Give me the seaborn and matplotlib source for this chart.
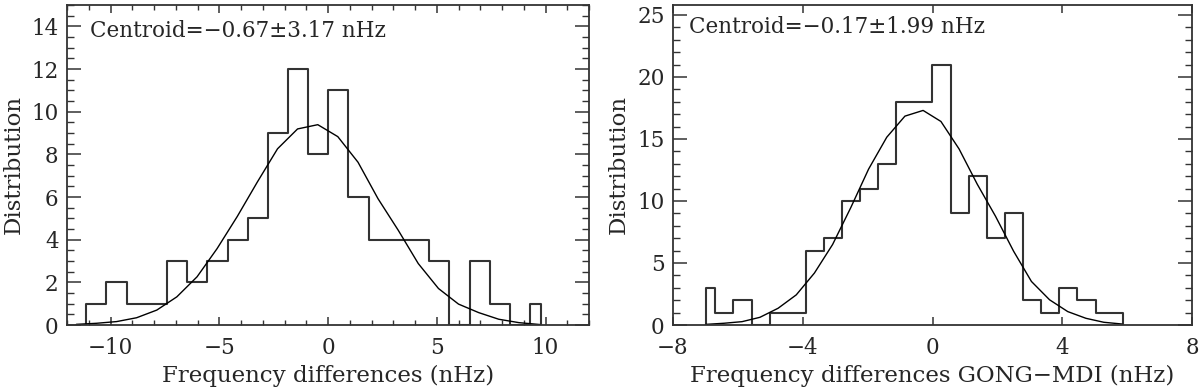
import numpy as np
import pandas as pd
import seaborn as sns
import matplotlib.pyplot as plt
from matplotlib.ticker import MultipleLocator

# left panel: histogram (bin edges + counts) and fitted gaussian read at bin centres
left_edges = [-11.57, -11.11, -10.20, -9.25, -8.33, -7.42, -6.48, -5.55, -4.62, -3.67,
              -2.75, -1.83, -0.92, 0.01, 0.93, 1.88, 2.80, 3.72, 4.63, 5.58, 6.51,
              7.45, 8.38, 9.30, 9.78]
left_counts = [0, 1, 2, 1, 1, 3, 2, 3, 4, 5, 9, 12, 8, 11, 6, 4, 4, 4, 3, 0, 3, 1, 0, 1]
left_fit_x = [-11.57, -10.65, -9.72, -8.80, -7.87, -6.95, -6.02, -5.10, -4.17, -3.25,
              -2.32, -1.40, -0.47, 0.45, 1.38, 2.30, 3.23, 4.15, 5.08, 6.00, 6.93,
              7.85, 8.78, 9.76]
left_fit_y = [0.03, 0.08, 0.16, 0.34, 0.70, 1.32, 2.26, 3.58, 5.09, 6.70, 8.26, 9.19,
              9.39, 8.83, 7.63, 5.92, 4.44, 2.88, 1.71, 0.98, 0.58, 0.27, 0.11, 0.02]

# right panel: GONG-MDI
right_edges = [-6.99, -6.70, -6.14, -5.57, -5.01, -4.46, -3.91, -3.34, -2.78, -2.22,
               -1.67, -1.12, -0.56, -0.01, 0.56, 1.11, 1.67, 2.23, 2.80, 3.35, 3.91,
               4.46, 5.03, 5.58, 5.86]
right_counts = [3, 1, 2, 0, 1, 1, 6, 7, 10, 11, 13, 18, 18, 21, 9, 12, 7, 9, 2, 1, 3, 2, 1, 1]
right_fit_x = [-6.99, -6.43, -5.87, -5.32, -4.76, -4.20, -3.64, -3.08, -2.52, -1.97,
               -1.41, -0.85, -0.29, 0.26, 0.82, 1.38, 1.94, 2.50, 3.05, 3.61, 4.17,
               4.73, 5.28, 5.84]
right_fit_y = [0.05, 0.14, 0.27, 0.62, 1.35, 2.43, 4.19, 6.49, 9.46, 12.57, 15.14,
               16.84, 17.30, 16.41, 14.19, 11.35, 8.78, 5.95, 3.51, 2.03, 1.08, 0.54,
               0.22, 0.08]

left_label = "Centroid=\u22120.67\u00b13.17 nHz"
right_label = "Centroid=\u22120.17\u00b11.99 nHz"

sns.set_style("ticks")
plt.rcParams['font.family'] = ['DejaVu Serif']
plt.rcParams['axes.unicode_minus'] = True

fig = plt.figure(figsize=(12.02, 3.89), dpi=100)
ax1 = fig.add_axes([67/1202, 64/389, 522/1202, 320/389])
ax2 = fig.add_axes([673/1202, 64/389, 519/1202, 320/389])

fc = "#333333"


def draw_panel(ax, edges, counts, fx, fy, label, lx, ly):
    mids = [(a + b) / 2 for a, b in zip(edges[:-1], edges[1:])]
    df = pd.DataFrame({"x": mids, "w": counts})
    sns.histplot(data=df, x="x", weights="w", bins=list(edges), element="step",
                 fill=False, color=fc, linewidth=1.5, ax=ax)
    # close the outline down to the baseline at both ends
    ax.vlines([edges[0], edges[-1]], 0, [counts[0], counts[-1]], color=fc, linewidth=1.5)
    sns.lineplot(x=fx, y=fy, color="black", linewidth=1.0, ax=ax)
    ax.text(lx, ly, label, transform=ax.transAxes, fontsize=15.5, va="baseline")
    for s in ax.spines.values():
        s.set_linewidth(1.3)
        s.set_color(fc)
        s.set_visible(True)
    ax.tick_params(which="both", direction="in", top=True, right=True,
                   labelsize=15.5, color=fc)
    ax.tick_params(axis="x", pad=9)
    ax.tick_params(axis="y", pad=6)


draw_panel(ax1, left_edges, left_counts, left_fit_x, left_fit_y, left_label, 0.044, 0.90)
draw_panel(ax2, right_edges, right_counts, right_fit_x, right_fit_y, right_label, 0.031, 0.912)

ax1.set_xlim(-12, 12)
ax1.set_ylim(0, 15)
ax1.xaxis.set_major_locator(MultipleLocator(5))
ax1.xaxis.set_minor_locator(MultipleLocator(1))
ax1.yaxis.set_major_locator(MultipleLocator(2))
ax1.yaxis.set_minor_locator(MultipleLocator(0.5))
ax1.set_yticks([0, 2, 4, 6, 8, 10, 12, 14])
ax1.set_xlabel("Frequency differences (nHz)", fontsize=16.5, labelpad=4)
ax1.set_ylabel("Distribution", fontsize=16.5, labelpad=5)

ax2.set_xlim(-8, 8)
ax2.set_ylim(0, 25.8)
ax2.xaxis.set_major_locator(MultipleLocator(4))
ax2.yaxis.set_major_locator(MultipleLocator(5))
ax2.yaxis.set_minor_locator(MultipleLocator(1))
ax2.set_yticks([0, 5, 10, 15, 20, 25])
ax2.set_xlabel("Frequency differences GONG\u2212MDI (nHz)", fontsize=16.5, labelpad=4)
ax2.set_ylabel("Distribution", fontsize=16.5, labelpad=5)

for ax in (ax1, ax2):
    ax.tick_params(axis="y", which="major", length=10, width=1.1)
    ax.tick_params(axis="y", which="minor", length=5, width=1.0)
    ax.tick_params(axis="x", which="major", length=6, width=1.1)
    ax.tick_params(axis="x", which="minor", length=3.5, width=1.0)

fig.savefig("out.png", dpi=100)
